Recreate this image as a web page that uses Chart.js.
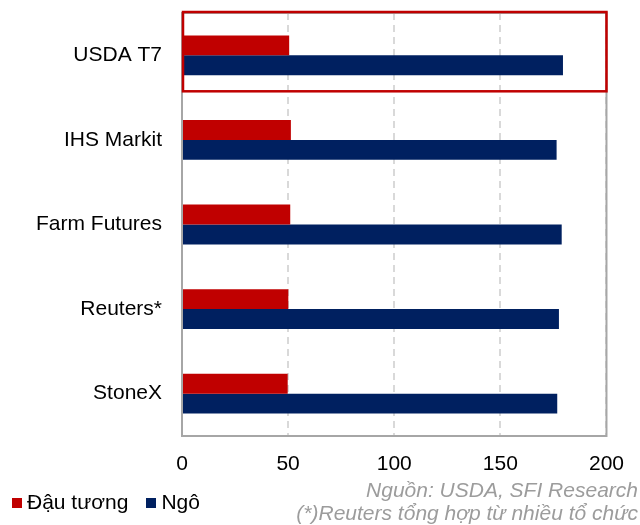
<!DOCTYPE html>
<html lang="vi">
<head>
    <meta charset="UTF-8">
    <title>Dự báo năng suất</title>
    <style>
body {
    margin: 0;
    padding: 0;
    background: #fff;
    font-family: 'Liberation Sans', Arial, sans-serif;
}

.wrap {
    position: relative;
    width: 640px;
    height: 525px;
    overflow: hidden;
}

/* Legend */
.legend {
    position: absolute;
    left: 12px;
    top: 490px;
    font-size: 21px;
    color: #000;
    white-space: nowrap;
}

.legend span.item {
    margin-right: 18px;
}

.legend i {
    display: inline-block;
    width: 10px;
    height: 10px;
    margin-right: 5px;
    vertical-align: 1px;
}

/* Source note */
.note {
    position: absolute;
    right: 2px;
    top: 478px;
    font-size: 21px;
    font-style: italic;
    color: #9c9c9c;
    text-align: right;
    line-height: 23px;
    white-space: nowrap;
}
    </style>
    <script src="https://cdn.jsdelivr.net/npm/chart.js"></script>
</head>
<body>
    <div class="wrap">
        <canvas id="yieldChart" width="640" height="525"></canvas>
        <div class="legend" id="legend"></div>
        <div class="note">Nguồn: USDA, SFI Research<br>(*)Reuters tổng hợp từ nhiều tổ chức</div>
    </div>

    <script>
const sources = ["USDA T7", "IHS Markit", "Farm Futures", "Reuters*", "StoneX"];
const soybean = [50.5, 51.3, 51.0, 50.1, 49.8];
const corn = [179.5, 176.5, 178.9, 177.6, 176.8];
const xTicks = [0, 50, 100, 150, 200];

const RED = "#c00000";
const NAVY = "#002060";

// frame around the plot + red highlight box around USDA row
const framePlugin = {
    id: "frame",
    afterDatasetsDraw(chart) {
        const ctx = chart.ctx;
        const a = chart.chartArea;
        const y = chart.scales.y;
        ctx.save();
        ctx.strokeStyle = "#a6a6a6";
        ctx.lineWidth = 2;
        ctx.strokeRect(a.left, a.top, a.right - a.left, a.bottom - a.top);

        const c0 = y.getPixelForValue(0);
        ctx.strokeStyle = RED;
        ctx.lineWidth = 2.5;
        ctx.strokeRect(a.left + 1, a.top - 1, a.right - a.left - 1, c0 + 37 - a.top);
        ctx.restore();
    }
};

const chart = new Chart(document.getElementById("yieldChart"), {
    type: "bar",
    data: {
        labels: sources,
        datasets: [
            {
                label: "Đậu tương",
                data: soybean,
                backgroundColor: RED
            },
            {
                label: "Ngô",
                data: corn,
                backgroundColor: NAVY
            }
        ]
    },
    options: {
        indexAxis: "y",
        responsive: false,
        animation: false,
        categoryPercentage: 0.47,
        barPercentage: 1.0,
        layout: {
            padding: { top: 13, right: 32, bottom: 0, left: 0 }
        },
        plugins: {
            legend: { display: false },
            tooltip: { enabled: false }
        },
        scales: {
            x: {
                min: 0,
                max: 200,
                afterBuildTicks(axis) {
                    axis.ticks = xTicks.map(v => ({ value: v }));
                },
                afterFit(axis) {
                    axis.height = 89;
                },
                ticks: {
                    color: "#000",
                    padding: 16,
                    font: { family: "'Liberation Sans', Arial", size: 21 }
                },
                grid: {
                    color: "#d9d9d9",
                    lineWidth: 2,
                    drawTicks: false
                },
                border: { display: false, dash: [7, 5] }
            },
            y: {
                afterFit(axis) {
                    axis.width = 182;
                    axis.paddingTop = 0;
                    axis.paddingBottom = 0;
                },
                ticks: {
                    color: "#000",
                    padding: 20,
                    font: { family: "'Liberation Sans', Arial", size: 21 }
                },
                grid: { display: false, drawTicks: false },
                border: { display: false }
            }
        }
    },
    plugins: [framePlugin]
});

// html legend from the datasets
const legend = document.getElementById("legend");
chart.data.datasets.forEach(ds => {
    const item = document.createElement("span");
    item.className = "item";
    item.innerHTML = '<i style="background:' + ds.backgroundColor + '"></i>' + ds.label;
    legend.appendChild(item);
});
    </script>
</body>
</html>
